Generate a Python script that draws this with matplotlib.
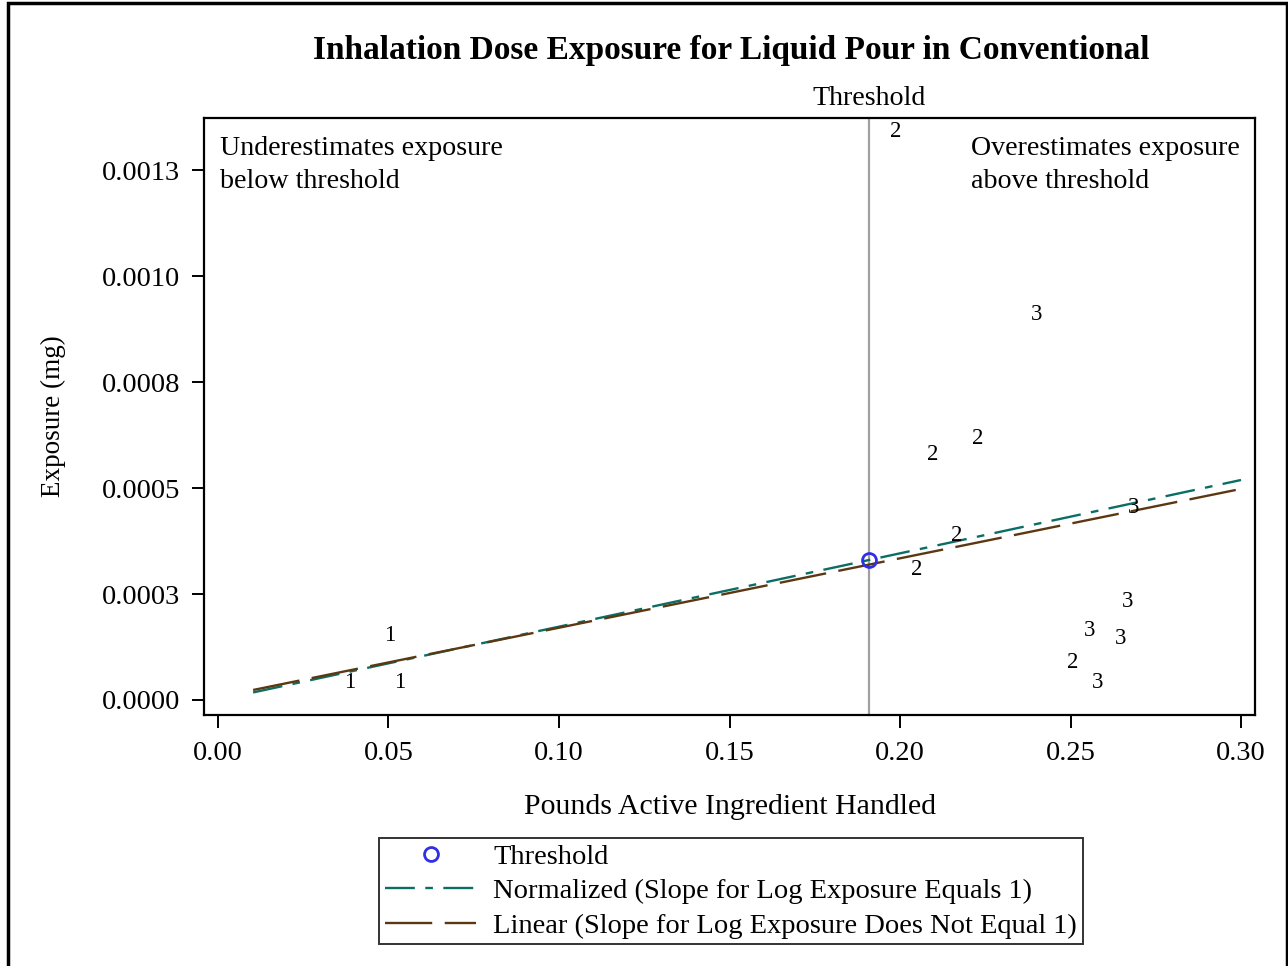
import matplotlib
matplotlib.use('Agg')
import matplotlib.pyplot as plt
from matplotlib.lines import Line2D
from matplotlib.patches import Rectangle

# Dados
grupo1_x = [0.0504, 0.0387, 0.0534]
grupo1_y = [0.000153, 0.0000401, 0.0000401]
grupo2_x = [0.1988, 0.2229, 0.2097, 0.2167, 0.2050, 0.2507]
grupo2_y = [0.001342, 0.000618, 0.000578, 0.000387, 0.000309, 0.0000873]
grupo3_x = [0.2399, 0.2686, 0.2666, 0.2557, 0.2648, 0.2578]
grupo3_y = [0.000910, 0.000453, 0.000233, 0.000163, 0.000144, 0.0000401]

threshold_x = 0.1909
threshold_y = 0.000330

normalized_x = [0.0103, 0.30]
normalized_y = [0.0000178, 0.000519]
linear_x = [0.0103, 0.30]
linear_y = [0.0000236, 0.000498]

x_ticks = [0.00, 0.05, 0.10, 0.15, 0.20, 0.25, 0.30]
x_tick_labels = ['0.00', '0.05', '0.10', '0.15', '0.20', '0.25', '0.30']
y_ticks = [0.0, 0.00025, 0.0005, 0.00075, 0.001, 0.00125]
y_tick_labels = ['0.0000', '0.0003', '0.0005', '0.0008', '0.0010', '0.0013']

plt.rcParams['font.family'] = ['Liberation Serif', 'DejaVu Serif']
plt.rcParams['lines.scale_dashes'] = False

cor_norm = '#0b6e64'
cor_lin = '#5c3812'
cor_thr = '#2f2fe6'

fig = plt.figure(figsize=(12.88, 9.66), dpi=100)
ax = fig.add_axes([204/1288, 1 - 715/966, (1255 - 204)/1288, (715 - 118)/966])

# Linha vertical do threshold
ax.axvline(threshold_x, color='#a0a0a0', linewidth=1.6, zorder=1)

# Linhas ajustadas
ax.plot(normalized_x, normalized_y, color=cor_norm, linewidth=1.7,
        dashes=[21.5, 7.5, 5.5, 7.5], zorder=2)
ax.plot(linear_x, linear_y, color=cor_lin, linewidth=1.7,
        dashes=[34, 9], zorder=3)

# Ponto threshold
ax.plot([threshold_x], [threshold_y], marker='o', markersize=10, markerfacecolor='none',
        markeredgecolor=cor_thr, markeredgewidth=2, linestyle='none', zorder=4)

# Marcadores de texto por grupo
for rotulo, xs, ys in [('1', grupo1_x, grupo1_y), ('2', grupo2_x, grupo2_y), ('3', grupo3_x, grupo3_y)]:
    for xv, yv in zip(xs, ys):
        ax.text(xv, yv, rotulo, ha='center', va='center', fontsize=16.5, zorder=5)

ax.set_xlim(-0.0041, 0.3041)
ax.set_ylim(-0.0000354, 0.001373)
ax.set_xticks(x_ticks)
ax.set_xticklabels(x_tick_labels)
ax.set_yticks(y_ticks)
ax.set_yticklabels(y_tick_labels)
ax.tick_params(axis='both', direction='out', length=9, width=1.4, labelsize=20.5)
ax.tick_params(axis='x', pad=10)
ax.tick_params(axis='y', pad=8)
for s in ax.spines.values():
    s.set_linewidth(1.6)

ax.set_xlabel('Pounds Active Ingredient Handled', fontsize=21.5)
ax.set_ylabel('Exposure (mg)', fontsize=19.5)
ax.xaxis.set_label_coords(0.5, -0.133)
ax.yaxis.set_label_coords(-0.131, 0.5)

# Anotações
ax.text(0.0152, 0.970, 'Underestimates exposure\nbelow threshold', transform=ax.transAxes,
        ha='left', va='top', fontsize=20.2, linespacing=1.45)
ax.text(0.9857, 0.970, 'Overestimates exposure\nabove threshold', transform=ax.transAxes,
        ha='right', va='top', multialignment='left', fontsize=20.2, linespacing=1.45)
ax.text(threshold_x, 1.0335, 'Threshold', transform=ax.get_xaxis_transform(),
        ha='center', va='center', fontsize=20.2, clip_on=False)

# Título
fig.text(731/1288, 1 - 50/966, 'Inhalation Dose Exposure for Liquid Pour in Conventional',
         ha='center', va='center', fontsize=24, fontweight='bold')

# Legenda
handles = [
    Line2D([], [], marker='o', markersize=10, markerfacecolor='none', markeredgecolor=cor_thr,
           markeredgewidth=2, linestyle='none'),
    Line2D([], [], color=cor_norm, linewidth=1.7, dashes=[21.5, 7.5, 5.5, 7.5]),
    Line2D([], [], color=cor_lin, linewidth=1.7, dashes=[34, 9]),
]
labels = ['Threshold', 'Normalized (Slope for Log Exposure Equals 1)',
          'Linear (Slope for Log Exposure Does Not Equal 1)']
leg = fig.legend(handles, labels, loc='upper center', bbox_to_anchor=(731/1288, 1 - 838/966),
                 fontsize=20.5, frameon=True, fancybox=False, shadow=False, ncol=1,
                 handlelength=3.2, handletextpad=0.6, borderpad=0.2, labelspacing=0.3,
                 borderaxespad=0)
leg.get_frame().set_edgecolor('black')
leg.get_frame().set_linewidth(1.4)

# Borda externa
fig.patches.append(Rectangle((8/1288, -0.01), (1287 - 8)/1288, 1.01 - 3/966,
                             transform=fig.transFigure, fill=False, edgecolor='black',
                             linewidth=2.5))

fig.savefig('out.png', dpi=100)
